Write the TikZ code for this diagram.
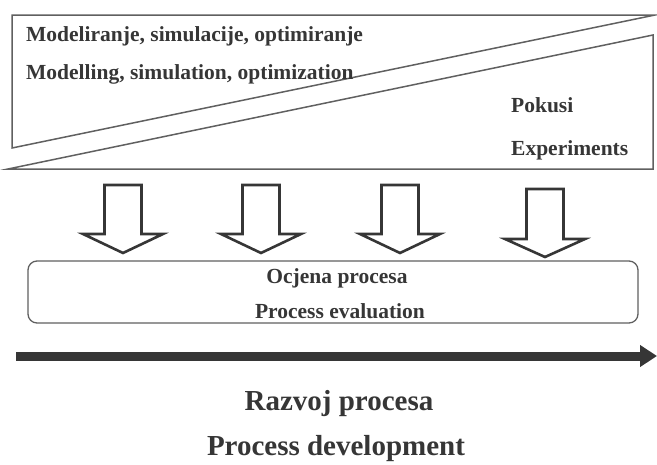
\documentclass[tikz,border=0pt]{standalone}
\usepackage{fontspec}
\setmainfont{Liberation Serif}
\usetikzlibrary{arrows.meta}
\definecolor{ink}{HTML}{363636}
\definecolor{edge}{HTML}{606060}
\tikzset{
  panel/.style={draw=edge, line width=1.5pt, line join=miter},
  lbl/.style={text=ink, font=\bfseries\fontsize{21.5}{24}\selectfont, inner sep=0pt},
  biglbl/.style={text=ink, font=\bfseries\fontsize{29}{34}\selectfont, inner sep=0pt},
  blockarrow/.style={draw=ink, line width=2.6pt, line join=miter, fill=white},
  evalbox/.style={draw=edge, line width=1.3pt, rounded corners=9pt},
  timeline/.style={draw=ink, line width=9pt, -{Triangle[length=17pt,width=21pt]}}
}
\begin{document}
\begin{tikzpicture}[x=1pt,y=-1pt]
\useasboundingbox (0,0) rectangle (657,464);
% upper and lower triangles
\draw[panel] (12,15) -- (655,15) -- (12,148) -- cycle;
\draw[panel] (8,169) -- (653,35) -- (653,169) -- cycle;
\node[lbl, anchor=base west] (mod) at (26,41) {Modeliranje, simulacije, optimiranje};
\node[lbl, anchor=base west] (modEn) at (26,79) {Modelling, simulation, optimization};
\node[lbl, anchor=base west] (pok) at (511,112) {Pokusi};
\node[lbl, anchor=base west] (exp) at (511,155) {Experiments};
% block arrows
\foreach \cx/\top/\base/\tip in {123/185/234/253, 261/185/234/253, 400/185/234/253, 545/189/239/257}{
  \draw[blockarrow] (\cx-18.5,\top) -- (\cx+18.5,\top) -- (\cx+18.5,\base) -- (\cx+40,\base)
     -- (\cx,\tip) -- (\cx-40,\base) -- (\cx-18.5,\base) -- cycle;
}
% evaluation box
\draw[evalbox] (28,261) rectangle (638,323);
\node[lbl, anchor=base] (oc) at (337,283) {Ocjena procesa};
\node[lbl, anchor=base] (pe) at (340,318) {Process evaluation};
% timeline
\coordinate (tstart) at (16,356);
\coordinate (tend) at (657,356);
\draw[timeline] (tstart) -- (tend);
\node[biglbl, anchor=base] (raz) at (339,410) {Razvoj procesa};
\node[biglbl, anchor=base] (pd) at (336,455) {Process development};
\end{tikzpicture}
\end{document}
